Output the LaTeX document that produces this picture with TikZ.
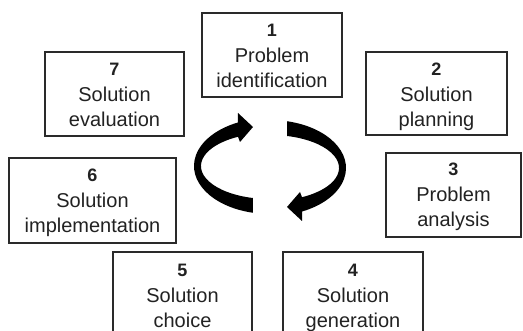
\documentclass[tikz,border=0pt]{standalone}
\usepackage{fontspec}
\setmainfont{Liberation Sans}
\definecolor{boxc}{HTML}{2A2A2A}
\definecolor{txtc}{HTML}{222222}
\newcommand{\nmb}[1]{{\fontsize{18}{18}\selectfont\bfseries #1}}
\begin{document}
\begin{tikzpicture}[x=1pt,y=-1pt,
  box/.style={draw=boxc, line width=1.5pt, inner sep=0pt},
  lbl/.style={anchor=north, inner sep=0pt, align=center, text=txtc,
    font=\fontsize{20}{24.5}\selectfont},
  cyc/.style={fill=black}]
\clip (0,0) rectangle (523,331);
\fill[white] (0,0) rectangle (523,331);

% boxes
\node[box, minimum width=140pt, minimum height=84pt] (b1) at (272,55) {};
\node[box, minimum width=141pt, minimum height=83pt] (b2) at (436.5,93.5) {};
\node[box, minimum width=135pt, minimum height=84pt] (b3) at (453.5,195) {};
\node[box, minimum width=140pt, minimum height=84pt] (b4) at (353,294) {};
\node[box, minimum width=139pt, minimum height=84pt] (b5) at (182.5,294) {};
\node[box, minimum width=167pt, minimum height=85pt] (b6) at (92.5,200.5) {};
\node[box, minimum width=139pt, minimum height=84pt] (b7) at (114.5,94) {};

% texts
\node[lbl] (t1) at (272,24.1) {\nmb{1}\\[1.5pt]Problem\\identification};
\node[lbl] (t2) at (436.5,63.1) {\nmb{2}\\[1.5pt]Solution\\planning};
\node[lbl] (t3) at (453.5,163.1) {\nmb{3}\\[1.5pt]Problem\\analysis};
\node[lbl] (t4) at (353,264.1) {\nmb{4}\\[1.5pt]Solution\\generation};
\node[lbl] (t5) at (182.5,264.1) {\nmb{5}\\[1.5pt]Solution\\choice};
\node[lbl] (t6) at (92.5,169.1) {\nmb{6}\\[1.5pt]Solution\\implementation};
\node[lbl] (t7) at (114.5,63.1) {\nmb{7}\\[1.5pt]Solution\\evaluation};

% cycle arrows
\coordinate (C) at (270,166);
\fill[cyc] (C) ++(103:76 and 48)
  arc[start angle=103, end angle=245, x radius=76, y radius=48]
  -- (238,113) -- (253,127) -- (240,142)
  -- (238,136.8)
  arc[start angle=242.4, end angle=104.3, x radius=69, y radius=33]
  -- cycle;
\begin{scope}[rotate around={180:(270,167)}]
\fill[cyc] (270,166) ++(103:76 and 48)
  arc[start angle=103, end angle=245, x radius=76, y radius=48]
  -- (238,113) -- (253,127) -- (240,142)
  -- (238,136.8)
  arc[start angle=242.4, end angle=104.3, x radius=69, y radius=33]
  -- cycle;
\end{scope}
\end{tikzpicture}
\end{document}
